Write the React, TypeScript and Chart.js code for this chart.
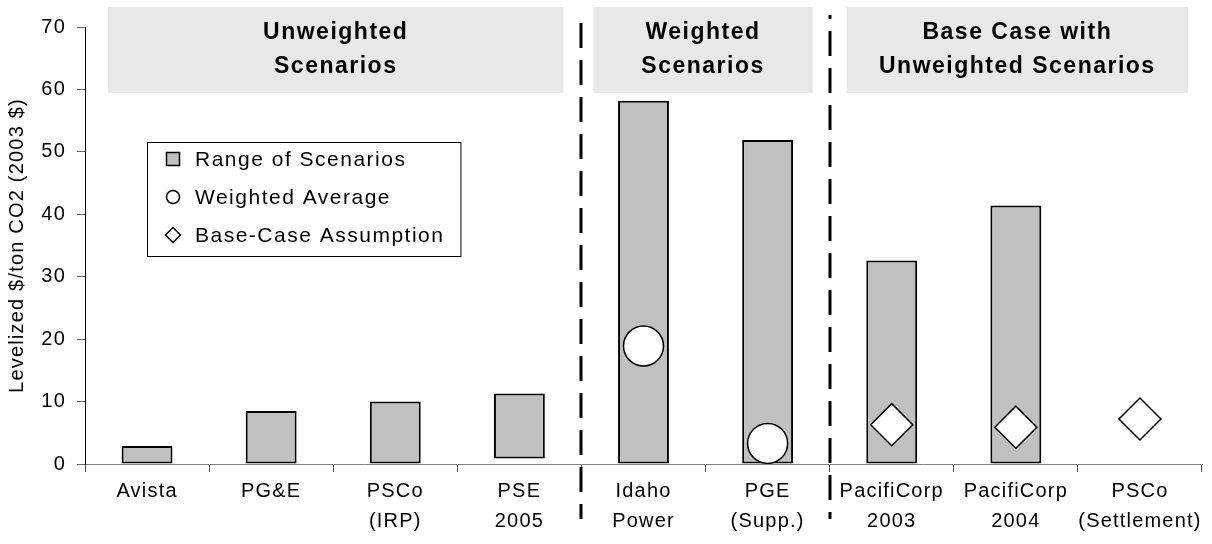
import React, { useEffect, useRef } from 'react';
import { Chart, registerables } from 'chart.js';

Chart.register(...registerables);

// ---------- data ----------
const categories: string[][] = [
  ['Avista'],
  ['PG&E'],
  ['PSCo', '(IRP)'],
  ['PSE', '2005'],
  ['Idaho', 'Power'],
  ['PGE', '(Supp.)'],
  ['PacifiCorp', '2003'],
  ['PacifiCorp', '2004'],
  ['PSCo', '(Settlement)'],
];
const rangeLow: (number | null)[] = [0, 0, 0, 0.9, 0, 0, 0, 0, null];
const rangeHigh: (number | null)[] = [2.9, 8.5, 10.0, 11.3, 58.2, 51.9, 32.6, 41.4, null];
const weightedAverage: (number | null)[] = [null, null, null, null, 18.9, 3.3, null, null, null];
const baseCaseAssumption: (number | null)[] = [null, null, null, null, null, null, 6.3, 5.9, 7.2];
const seriesLabels = ['Range of Scenarios', 'Weighted Average', 'Base-Case Assumption'];
const groupLabels: string[][] = [
  ['Unweighted', 'Scenarios'],
  ['Weighted', 'Scenarios'],
  ['Base Case with', 'Unweighted Scenarios'],
];
const groupFirst = [0, 4, 6];
const groupLast = [3, 5, 8];
const yMin = 0;
const yMax = 70;
const yStep = 10;
const yTitle = 'Levelized $/ton CO2 (2003 $)';

// ---------- styles ----------
const FONT = '"Liberation Sans", Arial, Helvetica, sans-serif';
const LS = '1.2px';
const BAR_FILL = '#c0c0c0';
const HEADER_FILL = '#e8e8e8';
const headerInsets = [
  [23, 18],
  [12, 17],
  [17, 14],
];

const overlayPlugin = {
  id: 'overlay',
  beforeUpdate(chart: any) {
    chart.ctx.letterSpacing = LS;
  },
  beforeDraw(chart: any) {
    const ctx = chart.ctx;
    ctx.letterSpacing = LS;
    const xs = chart.scales.x;
    const area = chart.chartArea;
    ctx.save();
    // header boxes
    groupLabels.forEach((lines, i) => {
      const l = xs.getPixelForValue(groupFirst[i] - 0.5) + headerInsets[i][0];
      const r = xs.getPixelForValue(groupLast[i] + 0.5) - headerInsets[i][1];
      const top = area.top - 20;
      const bottom = area.top + 66;
      ctx.fillStyle = HEADER_FILL;
      ctx.fillRect(l, top, r - l, bottom - top);
      ctx.fillStyle = '#000';
      ctx.font = `bold 23px ${FONT}`;
      ctx.letterSpacing = '1.5px';
      ctx.textAlign = 'center';
      ctx.textBaseline = 'middle';
      const cx = (l + r) / 2;
      lines.forEach((t, k) => {
        ctx.fillText(t, cx, area.top + 6 + k * 34);
      });
    });
    ctx.restore();
    ctx.letterSpacing = LS;
  },
  afterDraw(chart: any) {
    const ctx = chart.ctx;
    const xs = chart.scales.x;
    const area = chart.chartArea;
    ctx.save();
    // dashed separators
    ctx.strokeStyle = '#000';
    ctx.lineWidth = 3;
    ctx.setLineDash([25, 12]);
    for (let i = 0; i < groupFirst.length - 1; i++) {
      const x = Math.round((xs.getPixelForValue(groupLast[i] + 0.5) + xs.getPixelForValue(groupFirst[i + 1] - 0.5)) / 2);
      ctx.lineDashOffset = i === 0 ? 29 : 21;
      ctx.beginPath();
      ctx.moveTo(x, area.top - 12);
      ctx.lineTo(x, area.bottom + 55);
      ctx.stroke();
    }
    ctx.setLineDash([]);
    // legend
    ctx.font = `21px ${FONT}`;
    ctx.letterSpacing = '1.5px';
    const left = area.left + 62;
    const top = area.top + 115;
    const textX = left + 48;
    let maxW = 0;
    seriesLabels.forEach((t) => {
      maxW = Math.max(maxW, ctx.measureText(t).width);
    });
    const right = textX + maxW + 16;
    const bottom = top + 114;
    ctx.fillStyle = '#fff';
    ctx.fillRect(left, top, right - left, bottom - top);
    ctx.strokeStyle = '#000';
    ctx.lineWidth = 1;
    ctx.strokeRect(left + 0.5, top + 0.5, right - left, bottom - top);
    const mx = left + 26;
    const rows = [top + 17, top + 55, top + 93];
    // square
    ctx.fillStyle = BAR_FILL;
    ctx.fillRect(mx - 6.5, rows[0] - 6.5, 13, 13);
    ctx.lineWidth = 1.5;
    ctx.strokeRect(mx - 6.5, rows[0] - 6.5, 13, 13);
    // circle
    ctx.beginPath();
    ctx.fillStyle = '#fff';
    ctx.arc(mx, rows[1], 6.5, 0, Math.PI * 2);
    ctx.fill();
    ctx.stroke();
    // diamond
    ctx.beginPath();
    ctx.moveTo(mx - 7.5, rows[2]);
    ctx.lineTo(mx, rows[2] - 7.5);
    ctx.lineTo(mx + 7.5, rows[2]);
    ctx.lineTo(mx, rows[2] + 7.5);
    ctx.closePath();
    ctx.fill();
    ctx.stroke();
    ctx.fillStyle = '#000';
    ctx.textAlign = 'left';
    ctx.textBaseline = 'middle';
    seriesLabels.forEach((t, i) => ctx.fillText(t, textX, rows[i] + 1));
    ctx.restore();
  },
};

export default function App() {
  const ref = useRef<HTMLCanvasElement | null>(null);
  useEffect(() => {
    document.body.style.margin = '0';
    const canvas = ref.current!;
    const chart = new Chart(canvas, {
      type: 'bar',
      data: {
        labels: categories,
        datasets: [
          {
            type: 'line',
            label: seriesLabels[1],
            data: weightedAverage,
            showLine: false,
            pointStyle: 'circle',
            pointRadius: 20,
            pointHoverRadius: 20,
            pointBackgroundColor: '#fff',
            pointBorderColor: '#000',
            pointBorderWidth: 1.5,
            order: 0,
          } as any,
          {
            type: 'line',
            label: seriesLabels[2],
            data: baseCaseAssumption,
            showLine: false,
            pointStyle: 'rectRot',
            pointRadius: 21,
            pointHoverRadius: 21,
            pointBackgroundColor: '#fff',
            pointBorderColor: '#000',
            pointBorderWidth: 1.5,
            order: 1,
          } as any,
          {
            type: 'bar',
            label: seriesLabels[0],
            data: rangeLow.map((lo, i) => (lo === null || rangeHigh[i] === null ? null : [lo, rangeHigh[i]])) as any,
            backgroundColor: BAR_FILL,
            borderColor: '#000',
            borderWidth: 2,
            borderSkipped: false,
            barPercentage: 0.41,
            categoryPercentage: 1,
            order: 2,
          } as any,
        ],
      },
      options: {
        animation: false,
        responsive: false,
        devicePixelRatio: 1,
        layout: { autoPadding: false, padding: { left: 0, right: 10, top: 27, bottom: 0 } },
        plugins: {
          legend: { display: false },
          tooltip: { enabled: false },
        },
        scales: {
          x: {
            offset: true,
            grid: { offset: true, drawOnChartArea: false, drawTicks: true, tickLength: 8, color: '#555' },
            border: { color: '#808080', width: 1 },
            ticks: {
              color: '#000',
              font: { family: FONT, size: 20, lineHeight: 1.5 },
              padding: 4,
              maxRotation: 0,
              autoSkip: false,
            },
            afterFit: (s: any) => {
              s.height = 80;
              s.paddingLeft = 0;
              s.paddingRight = 0;
            },
          },
          y: {
            min: yMin,
            max: yMax,
            grid: { drawOnChartArea: false, drawTicks: true, tickLength: 8, color: '#666' },
            border: { color: '#000', width: 1 },
            ticks: {
              stepSize: yStep,
              color: '#000',
              font: { family: FONT, size: 20 },
              padding: 11,
            },
            title: {
              display: true,
              text: yTitle,
              color: '#000',
              font: { family: FONT, size: 20 },
              padding: { top: 5, bottom: 0 },
            },
            afterFit: (s: any) => {
              s.width = 85;
              s.paddingTop = 0;
              s.paddingBottom = 0;
            },
          },
        },
      },
      plugins: [overlayPlugin],
    });
    return () => chart.destroy();
  }, []);
  return (
    <div style={{ position: 'fixed', left: 0, top: 0, width: 1212, height: 544, background: '#fff' }}>
      <canvas ref={ref} width={1212} height={544} style={{ display: 'block', width: 1212, height: 544 }} />
    </div>
  );
}
